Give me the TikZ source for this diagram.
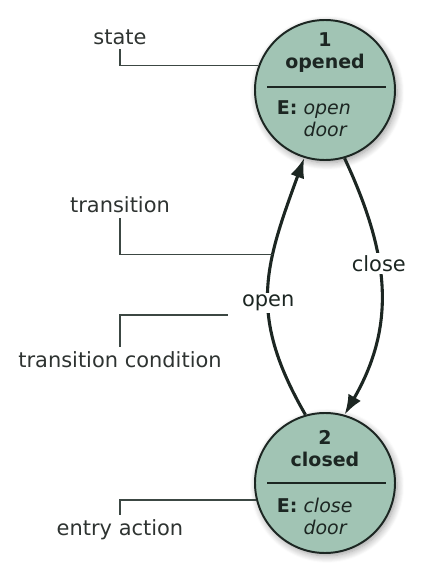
\documentclass[tikz,border=0pt]{standalone}
\usepackage{fontspec}
\setmainfont{DejaVu Sans}
\usepackage{tikz}
\usetikzlibrary{arrows.meta,shadows.blur}
\definecolor{stFill}{HTML}{A1C4B4}
\definecolor{stLine}{HTML}{1C2622}
\definecolor{lblGray}{HTML}{2E3331}
\definecolor{leadGray}{HTML}{3C4743}

\begin{document}
\begin{tikzpicture}[x=1cm,y=1cm,
    stnode/.style={circle,draw=stLine,line width=1.4pt,fill=stFill,minimum size=3.5cm,inner sep=0pt,
      blur shadow={shadow xshift=1.5pt,shadow yshift=-2pt,shadow blur radius=5pt,shadow blur steps=8}},
    sttitle/.style={align=center,font=\fontsize{13.5}{15.6}\selectfont\bfseries,text=stLine},
    stentry/.style={anchor=west,align=left,font=\fontsize{13.5}{15.6}\selectfont,text=stLine},
    note/.style={font=\fontsize{14.9}{18}\selectfont,text=lblGray},
    lead/.style={leadGray,line width=1pt},
    trans/.style={-{Latex[length=0.5cm,width=0.36cm]},stLine,line width=2.2pt},
    cond/.style={font=\fontsize{14.9}{18}\selectfont,text=stLine,fill=white,inner sep=1.5pt}]
  \useasboundingbox (0,0) rectangle (10.675,14.25);
  % states
  \node[stnode] (s1) at (8.125,12.0) {};
  \node[stnode] (s2) at (8.125,2.175) {};
  \node[sttitle] (s1t) at (8.125,12.925) {1\\opened};
  \node[sttitle] (s2t) at (8.125,3.0375) {2\\closed};
  \draw[stLine,line width=1pt] (6.675,12.075) -- (9.65,12.075);
  \draw[stLine,line width=1pt] (6.675,2.175) -- (9.65,2.175);
  \node[stentry] (s1e) at (6.8,11.275) {\textbf{E:} \textit{open}\\\phantom{\textbf{E:} }\textit{door}};
  \node[stentry] (s2e) at (6.8,1.35) {\textbf{E:} \textit{close}\\\phantom{\textbf{E:} }\textit{door}};
  % transitions
  \draw[trans] (s2.106) to[out=120,in=250,looseness=1.15]
    coordinate[pos=0.65] (ptrans)
    node[cond,pos=0.44] (open) {open} (s1.253);
  \draw[trans] (s1.286) to[out=-65,in=60,looseness=1.05]
    node[cond,pos=0.4] (close) {close} (s2.74);
  % notes on the left
  \node[note] (nstate) at (3.0,13.325) {state};
  \node[note] (ntrans) at (3.0,9.125) {transition};
  \node[note] (ncond) at (3.0,5.25) {transition condition};
  \node[note] (nentry) at (3.0,1.0) {entry action};
  \draw[lead] (nstate.south) |- (s1.160);
  \draw[lead] (ntrans.south) |- (ptrans);
  \draw[lead] (ncond.north) |- ([xshift=-0.25cm]open.south west);
  \draw[lead] (nentry.north) |- (s2.194);
\end{tikzpicture}
\end{document}
